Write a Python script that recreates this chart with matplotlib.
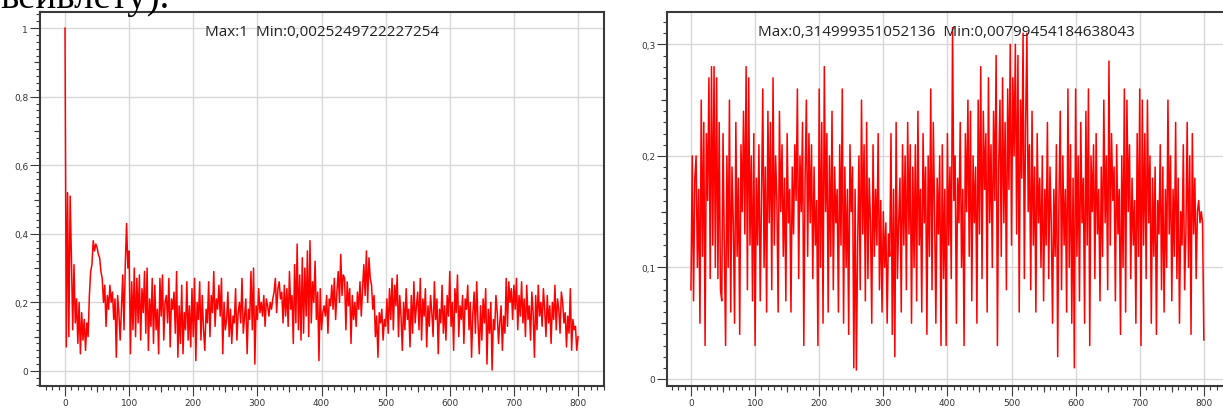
import numpy as np
import matplotlib
matplotlib.use("Agg")
import matplotlib.pyplot as plt
from matplotlib.ticker import MultipleLocator, FuncFormatter

# sample positions (every 2nd index, 0..800)
x_vals = list(range(0, 801, 2))

# left chart: normalised signal
left_vals = [
    1.0, 0.07, 0.52, 0.10, 0.51, 0.33, 0.12, 0.31, 0.14, 0.21, 0.08, 0.20, 0.05, 0.17, 0.09, 0.15, 0.06, 0.14, 0.10, 0.22, 0.29, 0.31, 0.38, 0.35, 0.37,
    0.36, 0.34, 0.33, 0.29, 0.27, 0.20, 0.25, 0.13, 0.22, 0.18, 0.25, 0.20, 0.23, 0.15, 0.21, 0.04, 0.22, 0.17, 0.09, 0.18, 0.28, 0.12, 0.31, 0.43, 0.30,
    0.35, 0.05, 0.26, 0.12, 0.30, 0.10, 0.27, 0.14, 0.28, 0.09, 0.24, 0.17, 0.29, 0.11, 0.30, 0.06, 0.21, 0.13, 0.27, 0.08, 0.25, 0.12, 0.18, 0.05, 0.27,
    0.16, 0.28, 0.09, 0.20, 0.22, 0.14, 0.27, 0.07, 0.21, 0.18, 0.23, 0.11, 0.29, 0.04, 0.19, 0.08, 0.25, 0.05, 0.17, 0.12, 0.26, 0.09, 0.19, 0.07, 0.24,
    0.10, 0.27, 0.03, 0.20, 0.15, 0.26, 0.09, 0.22, 0.12, 0.06, 0.18, 0.14, 0.26, 0.10, 0.22, 0.17, 0.29, 0.13, 0.21, 0.18, 0.25, 0.16, 0.27, 0.05, 0.20,
    0.12, 0.15, 0.23, 0.10, 0.18, 0.08, 0.16, 0.14, 0.24, 0.09, 0.17, 0.20, 0.14, 0.27, 0.11, 0.16, 0.21, 0.05, 0.18, 0.15, 0.29, 0.12, 0.30, 0.02, 0.19,
    0.15, 0.24, 0.17, 0.20, 0.16, 0.22, 0.13, 0.21, 0.19, 0.16, 0.20, 0.18, 0.21, 0.23, 0.27, 0.17, 0.24, 0.26, 0.21, 0.23, 0.14, 0.25, 0.16, 0.24, 0.13,
    0.29, 0.18, 0.22, 0.08, 0.31, 0.14, 0.37, 0.12, 0.28, 0.09, 0.33, 0.11, 0.30, 0.16, 0.35, 0.10, 0.38, 0.14, 0.26, 0.20, 0.32, 0.15, 0.23, 0.03, 0.24,
    0.12, 0.17, 0.19, 0.16, 0.22, 0.11, 0.21, 0.19, 0.25, 0.18, 0.27, 0.15, 0.23, 0.29, 0.20, 0.34, 0.22, 0.28, 0.27, 0.12, 0.26, 0.19, 0.24, 0.08, 0.22,
    0.15, 0.20, 0.13, 0.23, 0.18, 0.26, 0.16, 0.24, 0.31, 0.22, 0.35, 0.20, 0.33, 0.27, 0.25, 0.18, 0.22, 0.10, 0.16, 0.04, 0.17, 0.14, 0.18, 0.09, 0.15,
    0.13, 0.21, 0.11, 0.24, 0.15, 0.27, 0.12, 0.25, 0.19, 0.28, 0.10, 0.22, 0.16, 0.06, 0.20, 0.12, 0.24, 0.15, 0.18, 0.07, 0.22, 0.11, 0.26, 0.14, 0.19,
    0.23, 0.12, 0.27, 0.09, 0.21, 0.16, 0.24, 0.07, 0.19, 0.13, 0.22, 0.17, 0.10, 0.26, 0.15, 0.21, 0.05, 0.18, 0.14, 0.25, 0.11, 0.19, 0.09, 0.22, 0.16,
    0.29, 0.13, 0.20, 0.06, 0.24, 0.17, 0.28, 0.10, 0.19, 0.15, 0.22, 0.08, 0.21, 0.18, 0.25, 0.12, 0.20, 0.04, 0.17, 0.23, 0.11, 0.26, 0.14, 0.05, 0.19,
    0.09, 0.21, 0.14, 0.24, 0.02, 0.18, 0.11, 0.20, 0.0025, 0.15, 0.12, 0.22, 0.17, 0.08, 0.14, 0.19, 0.06, 0.16, 0.11, 0.27, 0.13, 0.26, 0.20, 0.24, 0.15,
    0.25, 0.18, 0.27, 0.12, 0.22, 0.16, 0.26, 0.14, 0.21, 0.10, 0.25, 0.15, 0.19, 0.09, 0.23, 0.17, 0.04, 0.22, 0.12, 0.25, 0.16, 0.20, 0.13, 0.24, 0.18,
    0.10, 0.22, 0.14, 0.19, 0.08, 0.20, 0.15, 0.25, 0.12, 0.21, 0.18, 0.11, 0.23, 0.20, 0.14, 0.17, 0.07, 0.16, 0.11, 0.24, 0.06, 0.15, 0.12, 0.13, 0.06,
    0.10,
]

# right chart
right_vals = [
    0.08, 0.20, 0.07, 0.18, 0.20, 0.10, 0.17, 0.05, 0.25, 0.11, 0.23, 0.03, 0.22, 0.16, 0.27, 0.09, 0.28, 0.12, 0.28, 0.10, 0.27, 0.09, 0.23, 0.08, 0.07,
    0.22, 0.12, 0.03, 0.20, 0.10, 0.25, 0.06, 0.19, 0.14, 0.05, 0.23, 0.11, 0.18, 0.04, 0.21, 0.15, 0.24, 0.13, 0.28, 0.08, 0.27, 0.12, 0.20, 0.07, 0.22,
    0.03, 0.18, 0.12, 0.21, 0.07, 0.16, 0.26, 0.10, 0.19, 0.06, 0.24, 0.14, 0.23, 0.08, 0.27, 0.12, 0.20, 0.16, 0.06, 0.24, 0.15, 0.21, 0.11, 0.18, 0.07,
    0.22, 0.14, 0.17, 0.06, 0.19, 0.13, 0.21, 0.16, 0.26, 0.09, 0.20, 0.15, 0.23, 0.03, 0.18, 0.25, 0.11, 0.22, 0.14, 0.21, 0.09, 0.19, 0.12, 0.16, 0.03,
    0.26, 0.10, 0.23, 0.05, 0.28, 0.15, 0.22, 0.06, 0.20, 0.11, 0.24, 0.08, 0.19, 0.14, 0.17, 0.06, 0.21, 0.12, 0.26, 0.05, 0.19, 0.10, 0.17, 0.04, 0.21,
    0.15, 0.19, 0.01, 0.17, 0.008, 0.12, 0.20, 0.08, 0.25, 0.13, 0.21, 0.07, 0.23, 0.09, 0.18, 0.14, 0.05, 0.21, 0.11, 0.17, 0.12, 0.22, 0.08, 0.16, 0.06,
    0.15, 0.10, 0.14, 0.05, 0.13, 0.11, 0.22, 0.04, 0.17, 0.02, 0.23, 0.09, 0.14, 0.18, 0.06, 0.21, 0.12, 0.20, 0.08, 0.23, 0.13, 0.21, 0.05, 0.19, 0.10,
    0.21, 0.07, 0.24, 0.12, 0.17, 0.06, 0.22, 0.14, 0.19, 0.04, 0.20, 0.11, 0.26, 0.08, 0.23, 0.15, 0.05, 0.18, 0.13, 0.20, 0.03, 0.21, 0.09, 0.17, 0.03,
    0.22, 0.12, 0.19, 0.09, 0.315, 0.16, 0.20, 0.05, 0.18, 0.14, 0.23, 0.10, 0.17, 0.03, 0.22, 0.15, 0.25, 0.11, 0.24, 0.07, 0.20, 0.14, 0.19, 0.05, 0.25,
    0.13, 0.28, 0.09, 0.24, 0.17, 0.22, 0.06, 0.27, 0.14, 0.21, 0.10, 0.24, 0.16, 0.29, 0.03, 0.19, 0.25, 0.11, 0.27, 0.14, 0.23, 0.08, 0.26, 0.17, 0.30,
    0.12, 0.27, 0.20, 0.30, 0.13, 0.29, 0.06, 0.25, 0.18, 0.31, 0.09, 0.23, 0.31, 0.15, 0.21, 0.08, 0.24, 0.12, 0.19, 0.06, 0.22, 0.14, 0.18, 0.10, 0.20,
    0.07, 0.17, 0.12, 0.23, 0.09, 0.19, 0.14, 0.05, 0.17, 0.11, 0.21, 0.02, 0.16, 0.24, 0.08, 0.20, 0.12, 0.17, 0.06, 0.26, 0.10, 0.21, 0.05, 0.18, 0.01,
    0.26, 0.11, 0.20, 0.07, 0.23, 0.14, 0.18, 0.05, 0.24, 0.12, 0.26, 0.03, 0.20, 0.15, 0.21, 0.09, 0.22, 0.13, 0.17, 0.07, 0.19, 0.11, 0.25, 0.14, 0.20,
    0.08, 0.285, 0.12, 0.22, 0.16, 0.19, 0.07, 0.21, 0.13, 0.17, 0.04, 0.20, 0.10, 0.26, 0.06, 0.25, 0.15, 0.21, 0.09, 0.18, 0.12, 0.16, 0.05, 0.22, 0.11,
    0.26, 0.03, 0.25, 0.12, 0.22, 0.09, 0.25, 0.14, 0.20, 0.05, 0.18, 0.11, 0.19, 0.04, 0.16, 0.13, 0.21, 0.08, 0.19, 0.06, 0.17, 0.10, 0.25, 0.13, 0.20,
    0.07, 0.17, 0.11, 0.23, 0.09, 0.18, 0.05, 0.15, 0.12, 0.21, 0.08, 0.13, 0.23, 0.10, 0.20, 0.04, 0.22, 0.13, 0.18, 0.09, 0.15, 0.16, 0.14, 0.15, 0.14,
    0.035,
]

left_label = "Max:1  Min:0,0025249722227254"
right_label = "Max:0,314999351052136  Min:0,00799454184638043"
page_text = "вейвлету)."

W, H = 1223, 414
fig = plt.figure(figsize=(W / 100, H / 100), dpi=100)

spine_col = "#3a3a3a"
grid_col = "#d8d8d8"
comma = FuncFormatter(lambda v, p: ("%g" % round(v, 6)).replace(".", ","))


def setup(ax, xlim, ylim, ystep, ymid, yminor, label):
    ax.set_xlim(*xlim)
    ax.set_ylim(*ylim)
    ax.xaxis.set_major_locator(MultipleLocator(100))
    ax.xaxis.set_minor_locator(MultipleLocator(10))
    ax.yaxis.set_major_locator(MultipleLocator(ystep))
    ax.yaxis.set_minor_locator(MultipleLocator(yminor))
    ax.xaxis.set_major_formatter(comma)
    ax.yaxis.set_major_formatter(comma)
    ax.grid(True, which="major", color=grid_col, lw=1.0)
    ax.set_axisbelow(True)
    for s in ax.spines.values():
        s.set_color(spine_col)
        s.set_linewidth(1.5)
    ax.tick_params(which="major", length=7, width=0.8, color=spine_col,
                   labelsize=6.5, labelcolor="#333333", pad=1.5)
    ax.tick_params(which="minor", length=3, width=0.8, color=spine_col)
    # medium ticks between the labelled ones
    sx = ax.secondary_xaxis("bottom")
    sx.set_xticks([v for v in range(50, 801, 100)])
    sx.set_xticklabels([])
    sx.tick_params(length=4.5, width=0.8, color=spine_col)
    sx.spines["bottom"].set_visible(False)
    sy = ax.secondary_yaxis("left")
    sy.set_yticks(ymid)
    sy.set_yticklabels([])
    sy.tick_params(length=4.5, width=0.8, color=spine_col)
    sy.spines["left"].set_visible(False)
    ax.text(0.5, 1 - 20 / 374, label, transform=ax.transAxes, ha="center",
            va="center", fontsize=11, family="Open Sans", color="#222222")


ax1 = fig.add_axes([40 / W, 27 / H, 564 / W, 374 / H])
ax1.plot(x_vals, left_vals, color="#ff0000", lw=1.1)
setup(ax1, (-39, 840.5), (-0.044, 1.047), 0.2, [0.1, 0.3, 0.5, 0.7, 0.9], 0.02, left_label)

ax2 = fig.add_axes([667 / W, 27 / H, 558 / W, 374 / H])
ax2.plot(x_vals, right_vals, color="#ff0000", lw=1.1)
setup(ax2, (-37.4, 833), (-0.0063, 0.329), 0.1, [0.05, 0.15, 0.25], 0.01, right_label)

# cropped line of page text above the charts
fig.text(0.0, 1 - 8 / H, page_text, ha="left", va="baseline", fontsize=28,
         family="Liberation Serif", color="black")

fig.savefig("out.png", dpi=100)
